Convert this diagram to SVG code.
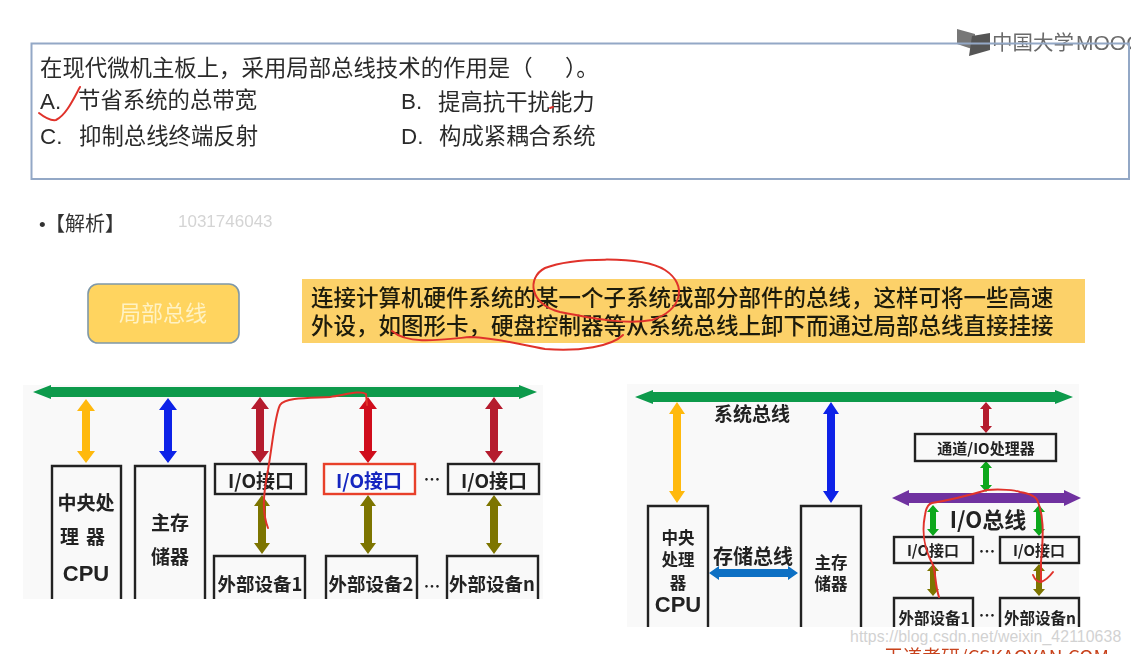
<svg xmlns="http://www.w3.org/2000/svg" width="1131" height="654" viewBox="0 0 1131 654">
<defs>
<filter id="soft" x="-2%" y="-2%" width="104%" height="104%"><feGaussianBlur stdDeviation="0.55"/></filter>
</defs>
<style>
text{font-family:"Noto Sans CJK SC","Liberation Sans",sans-serif}
.q{font-size:22.4px;fill:#2a2a2a}
.lat{font-family:"Liberation Sans","Noto Sans CJK SC",sans-serif}
.d{font-size:22.5px;fill:#1e1a0a;font-weight:500}
.b{fill:none;stroke:#222;stroke-width:2.4}
.l{font-size:19px;font-weight:700;fill:#222;text-anchor:middle}
.s{font-size:16.5px;font-weight:700;fill:#222;text-anchor:middle}
.ink{fill:none;stroke:#e0332c;stroke-width:2;stroke-linecap:round;stroke-linejoin:round}
.panel{fill:#f9f9f9}
.green{fill:#0b9a4c}.yellow{fill:#ffb90f}.blue{fill:#0a22e8}.red{fill:#b51a2e}.olive{fill:#7d7400}.bright{fill:#0aa81e}
</style>
<rect width="1131" height="654" fill="#fff"/>
<g filter="url(#soft)">
<g id="logo">
<path d="M957 29 L975 34 L975 50 L957 44 Z" fill="#777"/>
<path d="M990 33 L972 36 L969 56 L990 50 Z" fill="#555"/>
<text x="992" y="50" font-size="20.500" fill="#6a6a6a">中国大学</text>
<text class="lat" x="1076" y="50" font-size="21" fill="#6a6a6a">MOOC</text>
</g>
<g id="question">
<rect x="31.500" y="43.500" width="1097.500" height="135.500" fill="none" stroke="#93a8c6" stroke-width="2"/>
<text class="q" x="40" y="76">在现代微机主板上，采用局部总线技术的作用是（</text>
<text class="q" x="565" y="76">）。</text>
<text class="q lat" x="40" y="109">A.</text><text class="q" x="78" y="108">节省系统的总带宽</text>
<text class="q lat" x="401" y="109">B.</text><text class="q" x="438" y="110">提高抗干扰能力</text>
<text class="q lat" x="40" y="144">C.</text><text class="q" x="79" y="144">抑制总线终端反射</text>
<text class="q lat" x="401" y="144">D.</text><text class="q" x="439" y="144">构成紧耦合系统</text>
</g>
<g id="analysis">
<text class="lat" x="39" y="231" font-size="19" fill="#333">•</text>
<text x="45" y="231" font-size="20" fill="#333">【解析】</text>
<text class="lat" x="178" y="227" font-size="17" fill="#d4d4d4">1031746043</text>
</g>
<g id="local-bus">
<rect x="88" y="284" width="151" height="59" rx="10" fill="#ffd45f" stroke="#7f98a8" stroke-width="1.600"/>
<text x="163" y="321" font-size="22" fill="#fff2c4" text-anchor="middle">局部总线</text>
</g>
<g id="definition">
<rect x="302" y="279" width="783" height="64" fill="#fcd169"/>
<text class="d" x="311" y="306">连接计算机硬件系统的某一个子系统或部分部件的总线，这样可将一些高速</text>
<text class="d" x="311" y="334">外设，如图形卡，硬盘控制器等从系统总线上卸下而通过局部总线直接挂接</text>
</g>

<rect class="panel" x="23" y="385" width="520" height="214"/>
<rect class="panel" x="627" y="384" width="452" height="243"/>

<g id="connectors">
<path class="green" d="M33 392 L51 385 V387 H519 V385 L537 392 L519 399 V397 H51 V399 Z"/>
<path class="yellow" d="M86 399 l9 12 h-5 V451 h5 l-9 12 l-9 -12 h5 V411 h-5 z"/>
<path class="blue" d="M168 398 l9 12 h-5 V451 h5 l-9 12 l-9 -12 h5 V410 h-5 z"/>
<path class="red" d="M260 397 l9 12 h-5 V451 h5 l-9 12 l-9 -12 h5 V409 h-5 z"/>
<path fill="#d0101e" d="M368 397 l9 12 h-5 V451 h5 l-9 12 l-9 -12 h5 V409 h-5 z"/>
<path class="red" d="M494 397 l9 12 h-5 V451 h5 l-9 12 l-9 -12 h5 V409 h-5 z"/>
<path class="olive" d="M262 495 l8 11 h-4 V543 h4 l-8 11 l-8 -11 h4 V506 h-4 z"/>
<path class="olive" d="M368 495 l8 11 h-4 V543 h4 l-8 11 l-8 -11 h4 V506 h-4 z"/>
<path class="olive" d="M494 495 l8 11 h-4 V543 h4 l-8 11 l-8 -11 h4 V506 h-4 z"/>

<path class="green" d="M635 397 L653 390 V392 H1055 V390 L1073 397 L1055 404 V402 H653 V404 Z"/>
<path class="yellow" d="M677 402 l8 12 h-4 V491 h4 l-8 12 l-8 -12 h4 V414 h-4 z"/>
<path class="blue" d="M831 402 l8 12 h-4 V491 h4 l-8 12 l-8 -12 h4 V414 h-4 z"/>
<path class="red" d="M986 402 l6 7 h-3 V426 h3 l-6 7 l-6 -7 h3 V409 h-3 z"/>
<path class="bright" d="M986 461 l6 7 h-3 V485 h3 l-6 7 l-6 -7 h3 V468 h-3 z"/>
<path fill="#7030a0" d="M892 498 L909 490 V493 H1064 V490 L1081 498 L1064 506 V503 H909 V506 Z"/>
<path class="bright" d="M933 505 l6 7 h-3 V529 h3 l-6 7 l-6 -7 h3 V512 h-3 z"/>
<path class="bright" d="M1039 505 l6 7 h-3 V529 h3 l-6 7 l-6 -7 h3 V512 h-3 z"/>
<path class="olive" d="M933 564 l6 7 h-3 V589 h3 l-6 7 l-6 -7 h3 V571 h-3 z"/>
<path class="olive" d="M1039 564 l6 7 h-3 V589 h3 l-6 7 l-6 -7 h3 V571 h-3 z"/>
<path fill="#0a70c4" d="M709 573 L719 566 V569 H788 V566 L798 573 L788 580 V577 H719 V580 Z"/>
</g>

<g id="cpu-left"><path class="b" d="M52 599 V466 H121 V599"/>
<text class="l" x="86" y="510">中央处</text><text class="l" x="86" y="544" letter-spacing="7">理器</text>
<text x="86" y="581" font-size="22" font-weight="700" fill="#222" text-anchor="middle" class="lat">CPU</text></g>
<g id="memory-left"><path class="b" d="M135 599 V466 H205 V599"/>
<text class="l" x="170" y="530">主存</text><text class="l" x="170" y="564">储器</text></g>
<g id="io-left-1"><rect class="b" x="215" y="464" width="91" height="30"/>
<text class="l" x="261" y="488">I/O接口</text></g>
<g id="io-left-2"><rect x="324" y="464" width="91" height="30" fill="#fbfbfb" stroke="#e8402c" stroke-width="2.400"/>
<text class="l" x="369" y="488" style="fill:#1426c0">I/O接口</text></g>
<text class="s" x="432" y="486">…</text>
<g id="io-left-3"><rect class="b" x="448" y="464" width="91" height="30"/>
<text class="l" x="494" y="488">I/O接口</text></g>
<g id="dev-left-1"><path class="b" d="M214 599 V556 H305 V599"/>
<text class="s" x="260" y="591" style="font-size:18.500px">外部设备1</text></g>
<g id="dev-left-2"><path class="b" d="M326 599 V556 H417 V599"/>
<text class="s" x="371" y="591" style="font-size:18.500px">外部设备2</text></g>
<text class="s" x="432" y="593">…</text>
<g id="dev-left-3"><path class="b" d="M447 599 V556 H538 V599"/>
<text class="s" x="492" y="591" style="font-size:18.500px">外部设备n</text></g>

<text class="s" x="752" y="421" style="font-size:19px">系统总线</text>
<text class="s" x="753" y="564" style="font-size:20px">存储总线</text>
<text x="988" y="528" font-size="22" font-weight="700" fill="#222" text-anchor="middle">I/O总线</text>
<g id="cpu-right"><path class="b" d="M648 627 V506 H708 V627"/>
<text class="s" x="678" y="544">中央</text><text class="s" x="678" y="566">处理</text><text class="s" x="678" y="589">器</text>
<text x="678" y="612" font-size="22" font-weight="700" fill="#222" text-anchor="middle" class="lat">CPU</text></g>
<g id="memory-right"><path class="b" d="M801 627 V506 H861 V627"/>
<text class="s" x="831" y="569">主存</text><text class="s" x="831" y="590">储器</text></g>
<g id="channel"><rect class="b" x="915" y="434" width="141" height="27"/>
<text class="s" x="986" y="454" style="font-size:15px">通道/IO处理器</text></g>
<g id="io-right-1"><rect class="b" x="894" y="537" width="79" height="26"/>
<text class="s" x="933" y="556" style="font-size:15px">I/O接口</text></g>
<text class="s" x="987" y="558">…</text>
<g id="io-right-2"><rect class="b" x="1000" y="537" width="79" height="26"/>
<text class="s" x="1039" y="556" style="font-size:15px">I/O接口</text></g>
<g id="dev-right-1"><path class="b" d="M894 627 V598 H973 V627"/>
<text class="s" x="934" y="624" style="font-size:15.500px">外部设备1</text></g>
<text class="s" x="987" y="622">…</text>
<g id="dev-right-2"><path class="b" d="M1000 627 V598 H1079 V627"/>
<text class="s" x="1040" y="624" style="font-size:15.500px">外部设备n</text></g>

<g id="ink">
<path class="ink" d="M80 87 C73 100 66 115 56 120 C50 121 44 117 39 113"/>
<path class="ink" d="M550 108 L553 107"/>
<path class="ink" d="M545 268 C570 258 640 255 665 270 C688 285 682 310 652 320 C625 325 590 318 560 312 C530 305 526 278 545 268"/>
<path class="ink" d="M392 331 C408 345 440 340 470 337 C500 338 520 345 545 349 C580 352 612 346 623 335"/>
<path class="ink" d="M268 528 C263 515 262 500 268 470 C273 440 275 415 280 405 C285 397 310 398 330 397 C345 395 360 390 366 394 L367 405"/>
<path class="ink" d="M939 597 C935 585 936 575 933 565 C925 550 921 535 925 515 C926 508 928 504 932 503 C950 500 970 495 987 490 C1000 489 1015 490 1020 492 C1032 494 1037 497 1038 502 C1043 515 1044 530 1041 562 L1041 582"/>
<path class="ink" d="M1033 575 C1035 580 1038 582 1041 582 C1046 580 1050 576 1053 572"/>
</g>
</g>
<text class="lat" x="850" y="642" font-size="15.800" fill="#d2d2d2" letter-spacing="0.100">https://blog.csdn.net/weixin_42110638</text>
<text x="884" y="664" font-size="19" fill="#c8431c" filter="url(#soft)">王道考研/CSKAOYAN.COM</text>
</svg>
